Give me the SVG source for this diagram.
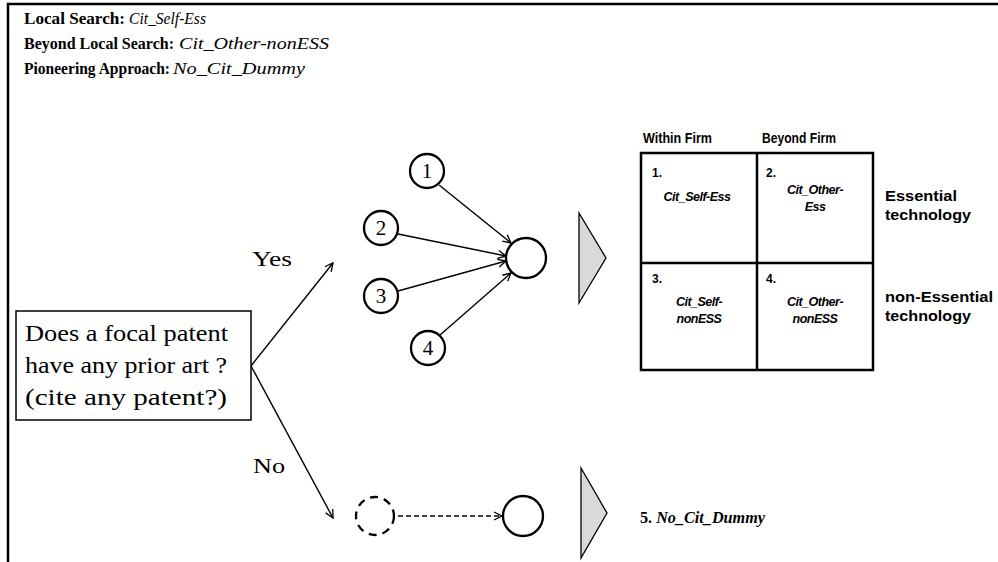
<svg xmlns="http://www.w3.org/2000/svg" width="998" height="562" viewBox="0 0 998 562">
<style>
.serif{font-family:"Liberation Serif","Times New Roman",serif;fill:#000}
.sans{font-family:"Liberation Sans",Arial,sans-serif;fill:#000}
.ttl{font-size:17px;font-weight:bold}
.it{font-style:italic;font-weight:normal}
.box{fill:#fff;stroke:#000;stroke-width:1.5}
.node{fill:#fff;stroke:#000;stroke-width:2.3}
.dash{fill:none;stroke:#000;stroke-width:2.3;stroke-dasharray:8 6}
.tri{fill:#d9d9d9;stroke:#000;stroke-width:1.3}
.conn{stroke:#000;stroke-width:1.4;fill:none;marker-end:url(#arr)}
.dconn{stroke:#000;stroke-width:1.6;fill:none;stroke-dasharray:5 3;marker-end:url(#arr)}
.grid{fill:none;stroke:#000;stroke-width:2.5}
.num{font-size:21px;text-anchor:middle}
.hdr{font-size:14px;font-weight:bold}
.cell{font-size:12.5px;font-weight:bold;font-style:italic;text-anchor:middle;letter-spacing:-0.5px}
.cn{font-size:12px;font-weight:bold}
.lbl{font-size:15px;font-weight:bold}
</style>
<defs>
<marker id="arr" markerUnits="userSpaceOnUse" markerWidth="10" markerHeight="10" refX="9" refY="5" orient="auto">
<path d="M1,1 L9,5 L1,9" fill="none" stroke="#000" stroke-width="1.3"/>
</marker>
</defs>
<rect width="998" height="562" fill="#fff"/>
<g id="frame">
<path d="M8,562 L8,4 L998,4" fill="none" stroke="#000" stroke-width="2.5"/>
</g>
<g id="legend">
<text class="serif ttl" x="24" y="24" textLength="101" lengthAdjust="spacingAndGlyphs">Local Search:</text>
<text class="serif ttl it" x="129" y="24" textLength="77" lengthAdjust="spacingAndGlyphs">Cit_Self-Ess</text>
<text class="serif ttl" x="24" y="49" textLength="150" lengthAdjust="spacingAndGlyphs">Beyond Local Search:</text>
<text class="serif ttl it" x="179" y="49" textLength="150" lengthAdjust="spacingAndGlyphs">Cit_Other-nonESS</text>
<text class="serif ttl" x="24" y="74" textLength="146" lengthAdjust="spacingAndGlyphs">Pioneering Approach:</text>
<text class="serif ttl it" x="173" y="74" textLength="132" lengthAdjust="spacingAndGlyphs">No_Cit_Dummy</text>
</g>
<g id="connectors">
<path class="conn" d="M251,366 L333,263"/>
<path class="conn" d="M251,366 L333,518"/>
<path class="conn" d="M439,185 L511,243"/>
<path class="conn" d="M398,234 L506,256"/>
<path class="conn" d="M398,291 L506,261"/>
<path class="conn" d="M440,335 L511,273"/>
<path class="dconn" d="M398,516 L502,516"/>
</g>
<g id="question">
<rect class="box" x="16" y="311" width="235" height="109"/>
<text class="serif" font-size="23" x="25" y="341" textLength="203" lengthAdjust="spacingAndGlyphs">Does a focal patent</text>
<text class="serif" font-size="23" x="25" y="373" textLength="202" lengthAdjust="spacingAndGlyphs">have any prior art ?</text>
<text class="serif" font-size="23" x="25" y="405" textLength="202" lengthAdjust="spacingAndGlyphs">(cite any patent?)</text>
</g>
<g id="label-yes"><text class="serif" font-size="22" x="252" y="266" textLength="40" lengthAdjust="spacingAndGlyphs">Yes</text></g>
<g id="label-no"><text class="serif" font-size="22" x="253" y="473" textLength="32" lengthAdjust="spacingAndGlyphs">No</text></g>
<g id="node1"><circle class="node" cx="427" cy="171" r="17"/><text class="serif num" x="427" y="178">1</text></g>
<g id="node2"><circle class="node" cx="381" cy="228" r="17"/><text class="serif num" x="381" y="235">2</text></g>
<g id="node3"><circle class="node" cx="381" cy="296" r="17"/><text class="serif num" x="381" y="303">3</text></g>
<g id="node4"><circle class="node" cx="428" cy="348" r="17"/><text class="serif num" x="428" y="355">4</text></g>
<g id="node-merge"><circle class="node" cx="526" cy="258" r="20"/></g>
<g id="arrow-yes"><polygon class="tri" points="579,213 606,258 579,303"/></g>
<g id="node-dashed"><circle class="dash" cx="375" cy="516" r="19"/></g>
<g id="node-no"><circle class="node" cx="523" cy="516" r="20"/></g>
<g id="arrow-no"><polygon class="tri" points="581,468 607,513 581,558"/></g>
<g id="matrix">
<rect class="grid" x="641" y="153" width="232" height="217"/>
<path class="grid" d="M757,153 L757,370 M641,263 L873,263"/>
<text class="sans hdr" x="643" y="143" textLength="69" lengthAdjust="spacingAndGlyphs">Within Firm</text>
<text class="sans hdr" x="762" y="143" textLength="74" lengthAdjust="spacingAndGlyphs">Beyond Firm</text>
<text class="sans cn" x="652" y="177">1.</text>
<text class="sans cell" x="697" y="201">Cit_Self-Ess</text>
<text class="sans cn" x="766" y="177">2.</text>
<text class="sans cell" x="815" y="194">Cit_Other-</text>
<text class="sans cell" x="815" y="211">Ess</text>
<text class="sans cn" x="652" y="283">3.</text>
<text class="sans cell" x="699" y="306">Cit_Self-</text>
<text class="sans cell" x="699" y="323">nonESS</text>
<text class="sans cn" x="766" y="283">4.</text>
<text class="sans cell" x="815" y="306">Cit_Other-</text>
<text class="sans cell" x="815" y="323">nonESS</text>
<text class="sans lbl" x="885" y="201" textLength="72" lengthAdjust="spacingAndGlyphs">Essential</text>
<text class="sans lbl" x="885" y="220" textLength="86" lengthAdjust="spacingAndGlyphs">technology</text>
<text class="sans lbl" x="885" y="302" textLength="108" lengthAdjust="spacingAndGlyphs">non-Essential</text>
<text class="sans lbl" x="885" y="321" textLength="86" lengthAdjust="spacingAndGlyphs">technology</text>
</g>
<g id="result-no">
<text class="serif" font-size="16" font-weight="bold" x="640" y="523" textLength="125" lengthAdjust="spacingAndGlyphs">5. <tspan font-style="italic">No_Cit_Dummy</tspan></text>
</g>
</svg>
